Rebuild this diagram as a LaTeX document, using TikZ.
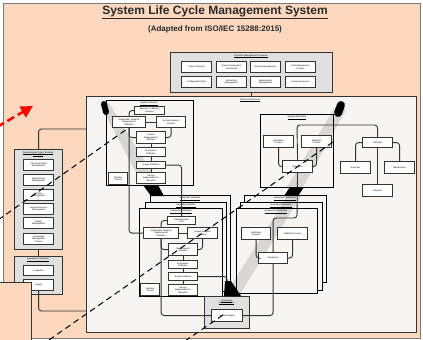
\documentclass[tikz,border=0pt]{standalone}
\usepackage{fontspec}
\setmainfont{Liberation Sans}
\usetikzlibrary{arrows.meta}
\definecolor{peach}{HTML}{FBD8BE}
\definecolor{panelc}{HTML}{F8F4F1}
\definecolor{grayfill}{HTML}{E0E0E0}
\definecolor{edge}{HTML}{333333}
\definecolor{framec}{HTML}{7A7A7A}
\definecolor{titlec}{HTML}{2A2A2A}
\newcommand\mkbox[6]{\node[ibox,minimum width=#4pt,minimum height=#5pt] (#1) at (#2,#3) {#6};}
\newcommand\mkgrp[6]{\node[#6,minimum width=#4pt,minimum height=#5pt] (#1) at (#2,#3) {};}
\newcommand\tul[1]{\vtop{\hbox{#1}\kern0.25pt\hrule height 0.2pt}}
\begin{document}
\begin{tikzpicture}[x=1pt,y=-1pt,
  ibox/.style={draw=edge, fill=white, line width=1.1pt, inner sep=0.3pt, align=center, anchor=north west, font=\fontsize{2.2}{2.6}\selectfont},
  gbox/.style={draw=edge, fill=grayfill, line width=1.1pt, anchor=north west, inner sep=0},
  wgrp/.style={draw=black, fill=panelc, line width=0.9pt, anchor=north west, inner sep=0},
  pnl/.style={draw=edge, fill=panelc, line width=1.1pt, anchor=north west, inner sep=0},
  ttl/.style={font=\fontsize{2.2}{2.6}\selectfont, inner sep=0, align=center},
  conn/.style={draw=edge, line width=0.9pt, rounded corners=3pt},
  band/.style={fill=black, opacity=0.12},
  blk/.style={fill=black},
  dsh/.style={draw=black, line width=1pt, dash pattern=on 6pt off 4pt}]
\useasboundingbox (0,0) rectangle (423,340);
\fill[white] (0,0) rectangle (423,340);
\node[draw=framec, fill=peach, line width=1.2pt, anchor=north west, minimum width=417pt, minimum height=335pt, inner sep=0] (frame) at (3,3) {};
\node[font=\fontsize{12}{14}\selectfont\bfseries, text=titlec, inner sep=0] (title) at (215,12.5) {\underline{System Life Cycle Management System}};
\node[font=\fontsize{8}{10}\selectfont\bfseries, text=titlec, inner sep=0] (sub) at (215,29.5) {(Adapted from ISO/IEC 15288:2015)};
% main panel
\mkgrp{P}{86}{96}{330}{236}{pnl}
\node[ttl] (tP) at (250,100) {\tul{Technical Processes}};
% technical management
\mkgrp{T}{170}{52}{162}{40}{gbox}
\node[ttl] (tT) at (251,56) {\tul{Technical Management Processes}};
\mkbox{t1}{181}{61}{30}{11}{Project Planning}
\mkbox{t2}{216}{61}{30}{11}{Project Assessment\\and Control}
\mkbox{t3}{250}{61}{30}{11}{Decision Management}
\mkbox{t4}{285}{61}{30}{11}{Risk Management\\Process}
\mkbox{t5}{181}{76}{30}{11}{Configuration Mgmt}
\mkbox{t6}{216}{76}{30}{11}{Information\\Management}
\mkbox{t7}{250}{76}{30}{11}{Measurement\\Management}
\mkbox{t8}{285}{76}{30}{11}{Quality Assurance}
\draw[conn] (T.south) -- (T.south |- P.north);
% organizational
\mkgrp{F}{14}{149}{48}{100}{gbox}
\node[ttl] (tF) at (38,154) {\tul{Organizational Project-Enabling}\\\tul{Processes}};
\mkbox{f1}{23}{159}{30}{11}{Life Cycle Model\\Management}
\mkbox{f2}{23}{174}{30}{11}{Infrastructure\\Management}
\mkbox{f3}{23}{189}{30}{11}{Portfolio\\Management}
\mkbox{f4}{23}{203}{30}{11}{Human Resource\\Management}
\mkbox{f5}{23}{217}{30}{11}{Quality\\Management}
\mkbox{f6}{23}{233}{30}{11}{Knowledge\\Management\\Process}
% agreement
\mkgrp{G}{14}{256}{48}{38}{gbox}
\node[ttl] (tG) at (38,259.5) {\tul{Agreement Processes}};
\mkbox{g1}{23}{265}{30}{10}{Acquisition}
\mkbox{g2}{23}{279}{30}{11}{Supply}
\draw[conn] (F.south) -- (G.north);
\coordinate (pin1) at (86,129);
\coordinate (pin2) at (86,311);
\draw[conn] (F.north) |- (pin1);
\draw[conn] (g2.south) |- (pin2);
% group A
\mkgrp{A}{106}{100}{87}{85}{wgrp}
% group C
\mkgrp{C}{260}{114}{73}{73}{wgrp}
% stack B
\mkgrp{B3}{150}{195}{80}{92}{wgrp}
\mkgrp{B2}{145}{202}{81}{89}{wgrp}
\mkgrp{B1}{139}{208}{83}{88}{wgrp}
% stack D
\mkgrp{D3}{244}{195}{82}{87}{wgrp}
\mkgrp{D2}{240}{202}{82}{88}{wgrp}
\mkgrp{D1}{236}{208}{81}{85}{wgrp}
% E
\mkgrp{E}{204}{296}{45}{32}{gbox}
% bands
\fill[band] (101,106) -- (109,103) -- (160,186) -- (143,186) -- cycle;
\fill[band] (335,107) -- (346,110) -- (303,187) -- (287,187) -- cycle;
\fill[band] (287,196) -- (301,196) -- (240,294) -- (226,294) -- cycle;
% titles
\node[ttl] (tA) at (149,103.5) {\tul{System Definition}};
\node[ttl] (tC) at (297,117.5) {\tul{System Realization}};
\node[ttl] (tB3) at (190,198.5) {\tul{Subsystem Definition}};
\node[ttl] (tB2) at (186,205.5) {\tul{Assembly Definition}};
\node[ttl] (tB1) at (181,211.5) {\tul{Component Definition}};
\node[ttl] (tD3) at (285,198.5) {\tul{Subsystem Realization}};
\node[ttl] (tD2) at (281,205.5) {\tul{Assembly Realization}};
\node[ttl] (tD1) at (276,211.5) {\tul{Component Realization}};
\node[ttl] (tE) at (226.5,302) {\tul{Component}\\\tul{Implementation}};
% A boxes
\mkbox{a1}{134}{106}{30}{8}{Business or Mission\\Analysis}
\mkbox{a2}{112}{116}{33}{11}{Stakeholder Needs \&\\Requirements\\Definition}
\mkbox{a3}{156}{116}{29}{11}{System Analysis\\Process}
\mkbox{a4}{136}{131}{29}{12}{System\\Requirements\\Definition}
\mkbox{a5}{136}{147}{29}{9}{Architecture\\Definition}
\mkbox{a6}{136}{161}{29}{7}{Design Definition}
\mkbox{a7}{136}{172}{29}{11}{Design\\Requirements \&\\Allocation}
\mkbox{a8}{108}{172}{19}{12}{Interface\\Control}
% B boxes
\mkbox{b1}{167}{216}{28}{8}{Implementation\\Plan}
\mkbox{b2}{143}{227}{35}{11}{Stakeholder Needs \&\\Requirements\\Definition}
\mkbox{b3}{187}{227}{30}{11}{System Analysis\\Process}
\mkbox{b4}{168}{243}{29}{12}{Requirements\\Definition}
\mkbox{b5}{168}{260}{29}{8}{Architecture\\Definition}
\mkbox{b6}{168}{272}{29}{8}{Design Definition}
\mkbox{b7}{168}{284}{29}{11}{Design\\Requirements \&\\Allocation}
\mkbox{b8}{140}{283}{19}{12}{Interface\\Control}
% C boxes
\mkbox{c1}{263}{135}{30}{12}{Verification\\Process}
\mkbox{c2}{301}{135}{30}{12}{Validation\\Process}
\mkbox{c3}{282}{160}{30}{12}{Integration}
% D boxes
\mkbox{d1}{241}{227}{29}{12}{Verification\\Process}
\mkbox{d2}{277}{227}{30}{12}{Validation Process}
\mkbox{d3}{258}{252}{29}{11}{Integration}
% E box
\mkbox{e1}{211}{309}{31}{12}{Implementation}
% right cluster
\mkbox{r1}{362}{137}{30}{10}{Transition}
\mkbox{r2}{340}{161}{30}{12}{Operation}
\mkbox{r3}{384}{161}{30}{12}{Maintenance}
\mkbox{r4}{362}{184}{30}{12}{Disposal}
% connectors A
\draw[conn] (a1.west) -| (a2.north);
\draw[conn] (a2.east) -- (a3.west);
\draw[conn] (a2.south) |- (a4.west);
\draw[conn] (a3.south) |- (a4.east);
\draw[conn] (a4.south) -- (a5.north);
\draw[conn] (a5.south) -- (a6.north);
\draw[conn] (a6.south) -- (a7.north);
\draw[conn] (a2.south) |- (b2.west);
\draw[conn] (a6.east) -| (b1.north);
% connectors B
\draw[conn] (b1.west) -| (b2.north);
\draw[conn] (b2.east) -- (b3.west);
\draw[conn] (b2.south) |- (b4.west);
\draw[conn] (b3.south) |- (b4.east);
\draw[conn] (b4.south) -- (b5.north);
\draw[conn] (b5.south) -- (b6.north);
\draw[conn] (b6.south) -- (b7.north);
\draw[conn] (b6.east) -| (E.north);
\draw[conn] (b2.south) |- (e1.west);
% connectors C / D / right
\draw[conn] (c1.south) |- (c3.west);
\draw[conn] (c2.south) |- (c3.east);
\coordinate (cup) at (297,125);
\coordinate (cdn) at (297,218);
\draw[conn] (c3.north) -- (cup) -| (r1.north);
\draw[conn] (c3.south) -- (cdn) -| (d3.north);
\draw[conn] (d1.south) |- (d3.west);
\draw[conn] (d2.south) |- (d3.east);
\draw[conn] (d3.south) |- (e1.east);
\draw[conn] (r1.west) -| (r2.north);
\draw[conn] (r1.east) -| (r3.north);
\draw[conn] (r1.south) -- (r4.north);
% black band ends
\draw[line width=6pt, line cap=round] (104,104) -- (106,112);
\fill[blk] (143,185) -- (158,185) -- (164,196) -- (151,196) -- cycle;
\draw[line width=8pt, line cap=round] (341,105) -- (338,113);
\fill[blk] (290,187) -- (304,187) -- (298,196) -- (284,196) -- cycle;
\fill[blk] (225,281) -- (231,281) -- (241,296) -- (224,296) -- cycle;
% dashed lines
\coordinate (l1a) at (-2,220);
\coordinate (l1b) at (127,129);
\coordinate (l2a) at (49,340);
\coordinate (l2b) at (333,142);
\coordinate (l3a) at (185,341);
\coordinate (l3b) at (223,315);
\draw[dsh] (l1a) -- (l1b);
\draw[dsh] (l2a) -- (l2b);
\draw[dsh] (l3a) -- (l3b);
% overlay rectangle
\node[draw=edge, fill=peach, line width=1pt, anchor=north west, minimum width=33pt, minimum height=62pt, inner sep=0] (ov) at (-2,282) {};
% red arrow
\coordinate (ra1) at (-3,127);
\coordinate (ra2) at (33,106);
\draw[red, line width=2.6pt, dash pattern=on 8pt off 4pt, -{Triangle[length=12pt,width=12pt]}] (ra1) -- (ra2);
\end{tikzpicture}
\end{document}
